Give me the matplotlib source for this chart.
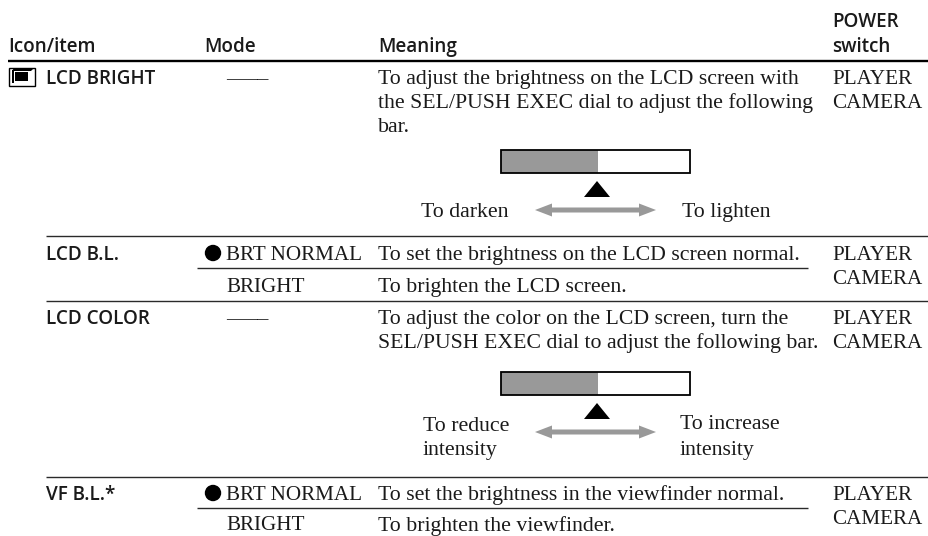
import matplotlib
matplotlib.use("Agg")
import matplotlib.pyplot as plt
from matplotlib.patches import Rectangle, Polygon, Circle

SANS = "Open Sans"
SERIF = "Liberation Serif"
INK = "#1a1a1a"

headers = ["Icon/item", "Mode", "Meaning", "POWER", "switch"]
items = ["LCD BRIGHT", "LCD B.L.", "LCD COLOR", "VF B.L.*"]
modes = ["—––", "BRT NORMAL", "BRIGHT", "—––", "BRT NORMAL", "BRIGHT"]
meanings = [
    "To adjust the brightness on the LCD screen with",
    "the SEL/PUSH EXEC dial to adjust the following",
    "bar.",
    "To set the brightness on the LCD screen normal.",
    "To brighten the LCD screen.",
    "To adjust the color on the LCD screen, turn the",
    "SEL/PUSH EXEC dial to adjust the following bar.",
    "To set the brightness in the viewfinder normal.",
    "To brighten the viewfinder.",
]
switch_labels = ["PLAYER", "CAMERA"]
bar_labels = ["To darken", "To lighten", "To reduce", "intensity", "To increase", "intensity"]

fig = plt.figure(figsize=(9.29, 5.36), dpi=100)
ax = fig.add_axes([0, 0, 1, 1])
ax.set_xlim(0, 929)
ax.set_ylim(536, 0)
ax.axis("off")


def sans(x, y, s):
    ax.text(x, y, s, family=SANS, weight="semibold", fontsize=13.6, color=INK, va="baseline")


def serif(x, y, s, size=15.7):
    ax.text(x, y, s, family=SERIF, fontsize=size, color=INK, va="baseline")


# header
sans(8, 52, headers[0])
sans(204, 52, headers[1])
sans(378, 52, headers[2])
sans(832, 27, headers[3])
sans(832, 52, headers[4])

# rules
ax.plot([8, 929], [61, 61], color="black", lw=1.7, solid_capstyle="butt")
for y, x0, x1 in [(236, 46, 929), (268, 197, 808), (301, 46, 929), (477, 46, 929), (508, 197, 808)]:
    ax.plot([x0, x1], [y, y], color="#2a2a2a", lw=1.0, solid_capstyle="butt")

# first column
for y, s in zip([84, 260, 324, 500], items):
    sans(46, y, s)

# icon
ax.add_patch(Rectangle((9.5, 67.5), 26, 18, fc="white", ec="black", lw=1.0))
ax.add_patch(Polygon([(12, 68), (34, 68), (31, 71), (14, 71)], fc="black", ec="none"))
ax.add_patch(Rectangle((15, 72), 13, 9, fc="black", ec="none"))
ax.add_patch(Rectangle((12, 70), 2, 13, fc="black", ec="none"))

# mode column
mode_y = [84, 260, 292, 324, 500, 530.5]
for y, s in zip(mode_y, modes):
    serif(226, y, s, 15.2)
for y in [253, 493]:
    ax.add_patch(Circle((213, y), 8.2, fc="black", ec="none"))

# meaning column
meaning_y = [84, 108, 132, 260, 292, 324, 348, 500, 530.5]
for y, s in zip(meaning_y, meanings):
    serif(378, y, s)

# power switch column
for y0 in [84, 260, 324, 500]:
    serif(832, y0, switch_labels[0], 15.2)
    serif(832, y0 + 24, switch_labels[1], 15.2)

# adjusting bars
for top in [150, 372]:
    ax.add_patch(Rectangle((501, top), 97, 23, fc="#999999", ec="none"))
    ax.add_patch(Rectangle((501, top), 189, 23, fc="none", ec="black", lw=1.3))
    ax.add_patch(Polygon([(597, top + 31), (584, top + 47), (610, top + 47)], fc="black", ec="none"))
    ay = top + 60
    ax.add_patch(Polygon([(535, ay), (552, ay - 6.5), (552, ay - 2.5), (639, ay - 2.5), (639, ay - 6.5),
                          (656, ay), (639, ay + 6.5), (639, ay + 2.5), (552, ay + 2.5), (552, ay + 6.5)],
                         fc="#999999", ec="none"))

serif(421, 217, bar_labels[0])
serif(682, 217, bar_labels[1])
serif(423, 431, bar_labels[2])
serif(423, 455, bar_labels[3])
serif(680, 429, bar_labels[4])
serif(680, 455, bar_labels[5])

fig.savefig("out.png", dpi=100)
